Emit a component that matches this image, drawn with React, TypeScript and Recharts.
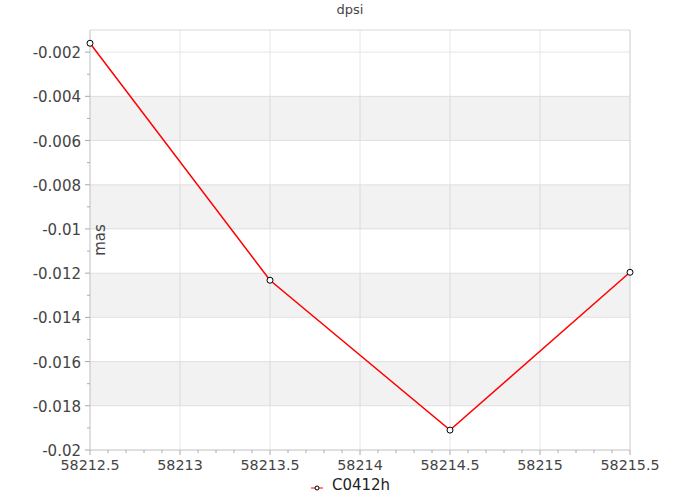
import React from 'react';
import {
  LineChart,
  Line,
  XAxis,
  YAxis,
  CartesianGrid,
  ReferenceArea,
  ReferenceLine,
  Legend,
} from 'recharts';

const epochs = [58212.5, 58213.5, 58214.5, 58215.5];
const dpsiValues = [-0.0016, -0.01232, -0.0191, -0.01196];
const seriesName = 'C0412h';

const xMajorTicks = [58212.5, 58213, 58213.5, 58214, 58214.5, 58215, 58215.5];
const xMinorTicks = [
  58212.6, 58212.7, 58212.8, 58212.9,
  58213.1, 58213.2, 58213.3, 58213.4,
  58213.6, 58213.7, 58213.8, 58213.9,
  58214.1, 58214.2, 58214.3, 58214.4,
  58214.6, 58214.7, 58214.8, 58214.9,
  58215.1, 58215.2, 58215.3, 58215.4,
];
const yMajorTicks = [-0.02, -0.018, -0.016, -0.014, -0.012, -0.01, -0.008, -0.006, -0.004, -0.002];
const yMinorTicks = [-0.019, -0.017, -0.015, -0.013, -0.011, -0.009, -0.007, -0.005, -0.003];

// shaded bands [from, to]
const bandLows = [-0.006, -0.01, -0.014, -0.018];
const bandHighs = [-0.004, -0.008, -0.012, -0.016];

const data = epochs.map((t, i) => ({ t, value: dpsiValues[i] }));
const bands = bandLows.map((lo, i) => ({ lo, hi: bandHighs[i] }));

const FONT = '"DejaVu Sans", Verdana, sans-serif';

const isMajor = (v: number, list: number[]) => list.some((m) => Math.abs(m - v) < 1e-9);

const XTick = (props: any) => {
  const { x, y, payload } = props;
  const major = isMajor(payload.value, xMajorTicks);
  return (
    <g>
      <line x1={x} x2={x} y1={y} y2={y + (major ? 5 : 3)} stroke="#aaa" />
      {major && (
        <text x={x} y={y + 20} textAnchor="middle" fill="#444" fontSize={14.3} fontFamily={FONT}>
          {String(payload.value)}
        </text>
      )}
    </g>
  );
};

const YTick = (props: any) => {
  const { x, y, payload } = props;
  const major = isMajor(payload.value, yMajorTicks);
  return (
    <g>
      <line x1={x - (major ? 5 : 3)} x2={x} y1={y} y2={y} stroke="#aaa" />
      {major && (
        <text x={x - 9} y={y + 6} textAnchor="end" fill="#444" fontSize={15} fontFamily={FONT}>
          {String(payload.value)}
        </text>
      )}
    </g>
  );
};

const YLabel = (props: any) => {
  const { viewBox } = props;
  const cx = viewBox.x + viewBox.width + 10;
  const cy = viewBox.y + viewBox.height / 2;
  return (
    <text
      x={cx}
      y={cy}
      transform={`rotate(-90, ${cx}, ${cy})`}
      textAnchor="middle"
      dominantBaseline="central"
      fill="#444"
      fontSize={15}
      fontFamily={FONT}
    >
      mas
    </text>
  );
};

const LegendContent = () => (
  <div
    style={{
      height: 26,
      boxSizing: 'border-box',
      paddingTop: 2,
      display: 'flex',
      alignItems: 'flex-start',
      justifyContent: 'center',
      fontFamily: FONT,
      fontSize: 15,
      color: '#222',
    }}
  >
    <svg width={14} height={10} style={{ marginTop: 7, marginRight: 8 }}>
      <line x1={1} x2={13} y1={5} y2={5} stroke="#ff0000" strokeWidth={1} />
      <circle cx={7} cy={5} r={2} fill="#fff" stroke="#000" strokeWidth={1} />
    </svg>
    <span>{seriesName}</span>
  </div>
);

export default function App() {
  return (
    <div style={{ position: 'absolute', left: 0, top: 0, width: 700, height: 500, background: '#fff' }}>
      <div
        style={{
          position: 'absolute',
          top: 2,
          left: 0,
          width: 700,
          textAlign: 'center',
          fontFamily: FONT,
          fontSize: 13,
          color: '#444',
        }}
      >
        dpsi
      </div>
      <LineChart width={700} height={500} data={data} margin={{ top: 30, right: 70, left: 0, bottom: 0 }}>
        <CartesianGrid
          stroke="#e6e6e6"
          horizontalValues={yMajorTicks}
          verticalValues={xMajorTicks}
        />
        {bands.map((b) => (
          <ReferenceArea
            key={b.lo}
            y1={b.lo}
            y2={b.hi}
            fill="#000"
            fillOpacity={0.05}
            stroke="none"
            ifOverflow="hidden"
          />
        ))}
        <ReferenceLine y={-0.001} stroke="#d8d8d8" />
        <ReferenceLine x={58215.5} stroke="#d8d8d8" />
        <XAxis
          dataKey="t"
          type="number"
          domain={[58212.5, 58215.5]}
          ticks={[...xMajorTicks, ...xMinorTicks]}
          interval={0}
          height={24}
          tickSize={0}
          tickMargin={0}
          tickLine={false}
          axisLine={{ stroke: '#ccc' }}
          tick={<XTick />}
        />
        <YAxis
          type="number"
          domain={[-0.02, -0.001]}
          ticks={[...yMajorTicks, ...yMinorTicks]}
          interval={0}
          width={90}
          tickSize={0}
          tickMargin={0}
          tickLine={false}
          axisLine={{ stroke: '#ccc' }}
          tick={<YTick />}
          label={<YLabel />}
        />
        <Legend
          verticalAlign="bottom"
          content={<LegendContent />}
          wrapperStyle={{ left: 0, width: 700 }}
        />
        <Line
          dataKey="value"
          name={seriesName}
          type="linear"
          stroke="#ff0000"
          strokeWidth={1.5}
          dot={{ r: 3, fill: '#fff', stroke: '#000', strokeWidth: 1 }}
          isAnimationActive={false}
        />
      </LineChart>
    </div>
  );
}
